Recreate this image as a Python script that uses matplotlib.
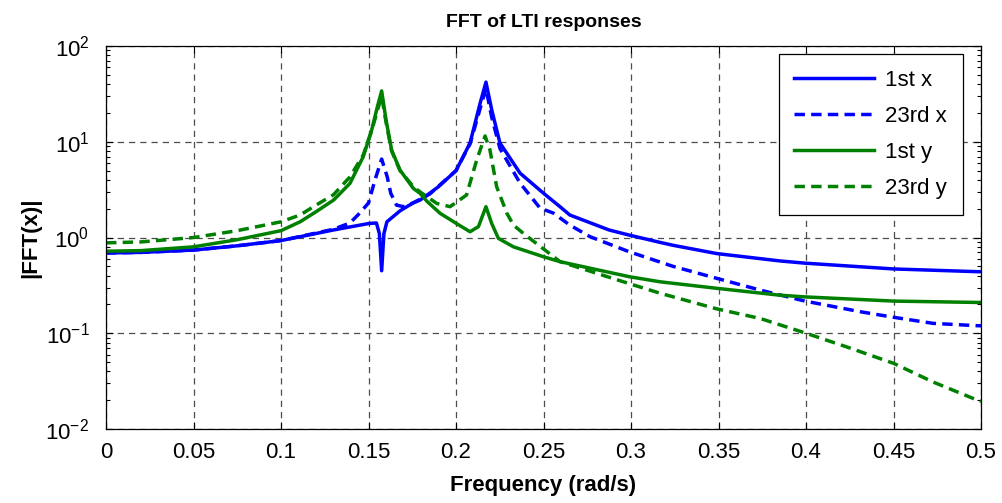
import matplotlib
import matplotlib.pyplot as plt
import matplotlib.ticker as ticker

matplotlib.use("Agg")

plt.rcParams["font.family"] = ["Liberation Sans", "DejaVu Sans"]
plt.rcParams["mathtext.fontset"] = "custom"
plt.rcParams["mathtext.rm"] = "Liberation Sans"
plt.rcParams["mathtext.default"] = "regular"

# |FFT| of the LTI responses, sampled by frequency (rad/s)
freq_x1 = [0, 0.02, 0.05, 0.075, 0.1, 0.13, 0.15, 0.1545, 0.1562, 0.1575, 0.1588, 0.1605,
           0.168, 0.1755, 0.1794, 0.185, 0.19, 0.2, 0.208, 0.2137, 0.2171, 0.2204, 0.2251,
           0.2366, 0.25, 0.2594, 0.265, 0.2874, 0.299, 0.3166, 0.324, 0.349, 0.385, 0.3994,
           0.45, 0.498, 0.5]
fft_x1 = [0.69, 0.70, 0.74, 0.82, 0.93, 1.2, 1.4, 1.42, 1.1, 0.45, 1.1, 1.46,
          1.9, 2.3, 2.46, 2.9, 3.4, 5.0, 9.7, 25, 42, 21.5, 9.7,
          4.7, 2.9, 2.1, 1.72, 1.2, 1.06, 0.89, 0.83, 0.68, 0.57, 0.54,
          0.47, 0.44, 0.44]

freq_x23 = [0, 0.02, 0.05, 0.075, 0.1, 0.13, 0.1394, 0.145, 0.15, 0.1537, 0.1575, 0.1607,
            0.1627, 0.166, 0.17, 0.1755, 0.185, 0.2, 0.208, 0.2137, 0.2171, 0.2204, 0.2251,
            0.2366, 0.248, 0.2556, 0.265, 0.2766, 0.299, 0.324, 0.349, 0.3737, 0.3994,
            0.431, 0.45, 0.4726, 0.498, 0.5]
fft_x23 = [0.69, 0.70, 0.74, 0.82, 0.93, 1.22, 1.42, 1.8, 2.3, 4.0, 6.6, 4.3,
           2.9, 2.18, 2.1, 2.3, 2.85, 5.0, 9.5, 22, 36, 18, 8.5,
           3.7, 2.03, 1.8, 1.35, 1.02, 0.71, 0.50, 0.375, 0.283, 0.217,
           0.168, 0.147, 0.127, 0.12, 0.12]

freq_y1 = [0, 0.02, 0.05, 0.075, 0.1, 0.1109, 0.12, 0.13, 0.1394, 0.147, 0.1518, 0.155,
           0.1575, 0.16, 0.1632, 0.168, 0.1756, 0.1794, 0.1833, 0.1909, 0.2, 0.208, 0.2128,
           0.2171, 0.2204, 0.2242, 0.2328, 0.25, 0.2594, 0.299, 0.3166, 0.349, 0.385,
           0.3994, 0.45, 0.498, 0.5]
fft_y1 = [0.72, 0.73, 0.80, 0.95, 1.18, 1.46, 1.86, 2.46, 3.68, 7.0, 13.3, 23,
          34, 16.9, 8.2, 5.06, 3.26, 2.9, 2.4, 1.79, 1.41, 1.15, 1.30,
          2.1, 1.4, 0.98, 0.80, 0.63, 0.56, 0.39, 0.345, 0.295, 0.25,
          0.24, 0.217, 0.21, 0.21]

freq_y23 = [0, 0.02, 0.05, 0.075, 0.1, 0.1109, 0.12, 0.13, 0.1394, 0.147, 0.1518, 0.155,
            0.1575, 0.16, 0.1632, 0.168, 0.1756, 0.1794, 0.189, 0.1966, 0.206, 0.2118,
            0.2166, 0.2194, 0.2232, 0.229, 0.2328, 0.2386, 0.25, 0.2594, 0.299, 0.3166,
            0.349, 0.3737, 0.3994, 0.4233, 0.45, 0.4726, 0.498, 0.5]
fft_y23 = [0.88, 0.90, 1.0, 1.18, 1.46, 1.72, 2.18, 2.8, 4.3, 7.3, 13, 21,
           30, 16, 8.0, 5.0, 3.4, 3.0, 2.27, 2.1, 2.78, 6.45,
           11.5, 8.2, 3.4, 1.8, 1.35, 1.1, 0.76, 0.56, 0.33, 0.262,
           0.18, 0.143, 0.101, 0.072, 0.0486, 0.031, 0.020, 0.0195]

fig = plt.figure(figsize=(10.02, 5.03), dpi=100)
ax = fig.add_axes([0.1058, 0.147, 0.8733, 0.7615])

lw = 2.5
dash = (3, 1.8)
ax.plot(freq_x1, fft_x1, color="#0000ff", lw=lw, label="1st x")
ax.plot(freq_x23, fft_x23, color="#0000ff", lw=lw, dashes=dash, label="23rd x")
ax.plot(freq_y1, fft_y1, color="#008000", lw=lw, label="1st y")
ax.plot(freq_y23, fft_y23, color="#008000", lw=lw, dashes=dash, label="23rd y")

ax.set_yscale("log")
ax.set_xlim(0, 0.5)
ax.set_ylim(1e-2, 1e2)
ax.xaxis.set_major_locator(ticker.MultipleLocator(0.05))
ax.xaxis.set_major_formatter(ticker.FuncFormatter(lambda v, p: f"{v:g}"))
ax.yaxis.set_major_locator(ticker.LogLocator(base=10, numticks=10))
ax.yaxis.set_minor_locator(ticker.LogLocator(base=10, subs=range(2, 10), numticks=10))
ax.yaxis.set_major_formatter(ticker.LogFormatterMathtext())

ax.tick_params(which="both", direction="in", top=True, right=True, labelsize=16, width=0.8)
ax.tick_params(which="major", length=5)
ax.tick_params(which="minor", length=3)
ax.tick_params(axis="x", pad=9)
ax.tick_params(axis="y", pad=12)
for spine in ax.spines.values():
    spine.set_linewidth(0.9)

ax.grid(True, which="major", color="0.3", linestyle=(0, (5, 4)), lw=0.9)
ax.set_axisbelow(True)

ax.set_title("FFT of LTI responses", fontsize=14, fontweight="bold", pad=14)
ax.set_xlabel("Frequency (rad/s)", fontsize=16, fontweight="bold", labelpad=9)
ax.set_ylabel("|FFT(x)|", fontsize=16, fontweight="bold", labelpad=3)

leg = ax.legend(loc="upper right", bbox_to_anchor=(0.979, 0.979), borderaxespad=0,
                fontsize=16, fancybox=False, framealpha=1, edgecolor="black",
                handlelength=3.6, labelspacing=0.68, handletextpad=0.5, borderpad=0.7)
leg.get_frame().set_linewidth(0.9)

fig.savefig("out.png", dpi=100)
